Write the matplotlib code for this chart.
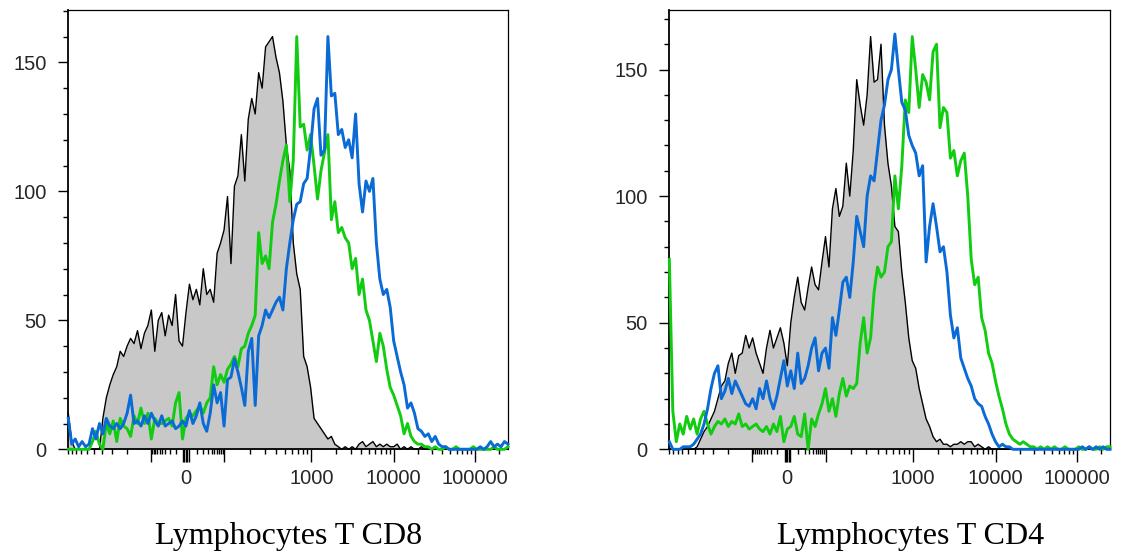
import matplotlib
matplotlib.use('Agg')
import matplotlib.pyplot as plt
from matplotlib.ticker import MultipleLocator
import numpy as np

# counts per channel, 128 channels spanning the biexponential axis
cd8_control = [14, 3, 0, 0, 0, 0, 0, 0, 0, 0,
               12, 20, 25, 29, 32, 38, 36, 40, 43, 41,
               46, 39, 45, 48, 54, 38, 50, 53, 44, 52,
               48, 60, 42, 40, 53, 64, 58, 62, 56, 70,
               60, 62, 57, 76, 80, 85, 98, 72, 102, 106,
               122, 104, 128, 136, 130, 146, 140, 156, 158, 160,
               152, 146, 135, 118, 108, 80, 68, 62, 36, 32,
               24, 12, 10, 8, 6, 4, 5, 2, 1, 0,
               1, 0, 1, 0, 2, 3, 1, 2, 3, 1,
               2, 1, 2, 1, 1, 2, 0, 1, 0, 1,
               0, 0, 1, 0, 0, 0, 0, 0, 0, 0,
               0, 0, 0, 0, 0, 0, 0, 0, 0, 0,
               0, 0, 0, 0, 0, 0, 0, 0]
cd8_green = [0, 0, 0, 0, 0, 0, 0, 3, 7, 2,
             0, 10, 6, 11, 3, 12, 9, 8, 5, 13,
             10, 16, 10, 14, 4, 12, 10, 10, 11, 12,
             9, 18, 22, 4, 12, 14, 13, 15, 17, 14,
             18, 20, 32, 25, 29, 26, 31, 33, 36, 32,
             39, 40, 45, 48, 52, 84, 72, 75, 70, 88,
             95, 104, 112, 118, 96, 112, 160, 125, 126, 116,
             122, 110, 97, 108, 115, 122, 89, 96, 84, 86,
             82, 80, 70, 74, 60, 66, 54, 50, 42, 34,
             45, 40, 31, 24, 21, 17, 13, 6, 10, 5,
             3, 2, 2, 1, 1, 0, 1, 0, 0, 1,
             0, 0, 1, 0, 0, 0, 0, 1, 0, 0,
             0, 0, 0, 1, 0, 0, 0, 1]
cd8_blue = [12, 2, 4, 1, 3, 1, 2, 8, 4, 10,
            6, 12, 9, 8, 10, 8, 10, 14, 21, 10,
            11, 9, 13, 10, 14, 11, 9, 13, 9, 10,
            11, 8, 9, 11, 9, 15, 10, 13, 18, 10,
            7, 14, 25, 18, 22, 9, 27, 28, 35, 30,
            24, 17, 38, 43, 17, 44, 48, 54, 51, 54,
            57, 59, 54, 70, 80, 89, 95, 96, 103, 105,
            117, 132, 136, 114, 116, 160, 137, 138, 122, 124,
            117, 120, 113, 130, 103, 92, 104, 100, 105, 80,
            66, 60, 62, 55, 42, 36, 30, 25, 16, 18,
            14, 8, 7, 5, 6, 3, 5, 2, 1, 1,
            0, 0, 0, 0, 0, 0, 0, 0, 0, 1,
            0, 1, 3, 1, 2, 1, 3, 2]

cd4_control = [0, 0, 0, 0, 0, 0, 0, 0, 1, 4,
               7, 9, 12, 15, 20, 25, 27, 34, 38, 30,
               37, 38, 45, 40, 44, 38, 34, 30, 40, 47,
               40, 44, 48, 42, 33, 50, 60, 68, 58, 55,
               64, 72, 65, 63, 74, 84, 72, 95, 103, 92,
               96, 113, 100, 118, 146, 136, 128, 140, 163, 145,
               146, 160, 128, 113, 104, 88, 86, 70, 58, 44,
               35, 32, 24, 18, 12, 9, 5, 3, 4, 2,
               2, 1, 2, 2, 3, 2, 3, 3, 1, 2,
               1, 0, 1, 0, 0, 0, 0, 0, 0, 0,
               0, 0, 0, 0, 0, 0, 0, 0, 0, 0,
               0, 0, 0, 0, 0, 0, 0, 0, 0, 0,
               0, 0, 0, 0, 0, 0, 0, 0]
cd4_green = [75, 15, 3, 10, 6, 13, 8, 12, 6, 12,
             15, 10, 6, 9, 11, 10, 12, 9, 11, 10,
             14, 9, 10, 8, 9, 10, 8, 7, 9, 6,
             10, 7, 13, 3, 8, 9, 13, 6, 5, 14,
             0, 12, 9, 14, 18, 24, 15, 20, 13, 22,
             28, 21, 25, 24, 26, 42, 52, 38, 44, 62,
             72, 68, 70, 80, 82, 108, 95, 112, 138, 133,
             163, 150, 135, 148, 145, 138, 157, 160, 127, 135,
             133, 115, 118, 108, 114, 117, 100, 75, 65, 68,
             52, 47, 38, 34, 27, 21, 16, 10, 6, 4,
             3, 2, 3, 2, 1, 1, 0, 1, 0, 1,
             0, 1, 0, 0, 1, 0, 0, 0, 1, 0,
             0, 1, 0, 0, 1, 0, 1, 1]
cd4_blue = [3, 0, 0, 0, 1, 1, 1, 2, 4, 6,
            10, 16, 24, 30, 33, 20, 23, 28, 22, 27,
            24, 21, 18, 17, 20, 16, 24, 20, 27, 20,
            16, 21, 28, 35, 25, 31, 24, 38, 26, 28,
            33, 40, 44, 31, 38, 40, 32, 52, 45, 55,
            66, 68, 60, 74, 92, 86, 80, 100, 108, 106,
            118, 130, 136, 146, 150, 164, 150, 137, 134, 124,
            120, 117, 108, 112, 74, 88, 97, 88, 78, 80,
            70, 53, 44, 48, 36, 32, 28, 25, 20, 18,
            17, 13, 10, 6, 3, 1, 2, 1, 1, 0,
            0, 0, 0, 0, 0, 0, 0, 0, 0, 0,
            0, 0, 0, 0, 0, 0, 0, 0, 0, 1,
            0, 1, 0, 1, 0, 1, 0, 0]

titles = ['Lymphocytes T CD8', 'Lymphocytes T CD4']
y_max = [170.3, 173.5]
labelled_ticks = [0, 1000, 10000, 100000]
tick_labels = ['0', '1000', '10000', '100000']

N_CHANNELS = 128

# biexponential display: intensity -> fraction of axis width
ANCHOR_VALUES = [-1000, -100, 0, 100, 1000, 10000, 100000, 262144]
ANCHOR_FRACS = [0.0, 0.1873, 0.2675, 0.3545, 0.5532, 0.7402, 0.9243, 1.0]


def biex_u(v):
    v = np.asarray(v, dtype=float)
    return np.sign(v) * np.log10(1 + np.abs(v) / 10)


def to_channel(v):
    return (N_CHANNELS - 1) * np.interp(biex_u(v), biex_u(ANCHOR_VALUES), ANCHOR_FRACS)


def minor_values():
    vals = []
    for base in [10, 100, 1000, 10000]:
        vals += [k * base for k in range(2, 10)]
    vals += [10, 200000]
    vals += [-k * 10 for k in range(1, 10)] + [-k * 100 for k in range(2, 11)]
    return vals


def draw_panel(ax, control, green, blue, ymax):
    ch = np.arange(N_CHANNELS)
    ax.fill_between(ch, 0, control, color='#c8c8c8', lw=0, zorder=1)
    ax.plot(ch, control, color='black', lw=1.0, zorder=3, clip_on=False)
    ax.plot(ch, green, color='#11cc11', lw=2.1, zorder=3, clip_on=False)
    ax.plot(ch, blue, color='#0a6ad6', lw=2.1, zorder=3, clip_on=False)

    ax.set_xlim(0, N_CHANNELS - 1)
    ax.set_ylim(0, ymax)

    major = [-100, -2, -1] + labelled_ticks[:1] + [1, 2, 100] + labelled_ticks[1:]
    labels = ['', '', ''] + tick_labels[:1] + ['', '', ''] + tick_labels[1:]
    ax.set_xticks(to_channel(major), labels)
    ax.set_xticks(to_channel(minor_values()), minor=True)
    ax.set_yticks([0, 50, 100, 150])
    ax.yaxis.set_minor_locator(MultipleLocator(10))

    ax.tick_params(axis='x', which='major', direction='out', length=9, width=1.0, pad=5)
    ax.tick_params(axis='x', which='minor', direction='out', length=3.8, width=1.0)
    ax.tick_params(axis='y', which='major', direction='out', length=7.2, width=1.0, pad=8.5)
    ax.tick_params(axis='y', which='minor', direction='out', length=3.6, width=1.0)
    for lab in ax.get_xticklabels() + ax.get_yticklabels():
        lab.set_fontfamily('Liberation Sans')
        lab.set_fontsize(14.5)
        lab.set_color('#262626')

    ax.spines['left'].set_linewidth(1.3)
    ax.spines['bottom'].set_linewidth(1.3)
    ax.spines['top'].set_linewidth(0.9)
    ax.spines['right'].set_linewidth(0.9)


fig = plt.figure(figsize=(11.21, 5.53), dpi=100)
ax1 = fig.add_axes([0.0609, 0.1875, 0.3922, 0.7944])
ax2 = fig.add_axes([0.5971, 0.1875, 0.3931, 0.7944])

draw_panel(ax1, cd8_control, cd8_green, cd8_blue, y_max[0])
draw_panel(ax2, cd4_control, cd4_green, cd4_blue, y_max[1])

fig.text(0.2578, 0.0163, titles[0], ha='center', va='baseline',
         family='Liberation Serif', fontsize=23)
fig.text(0.812, 0.0163, titles[1], ha='center', va='baseline',
         family='Liberation Serif', fontsize=23)

fig.savefig('out.png', dpi=100)
